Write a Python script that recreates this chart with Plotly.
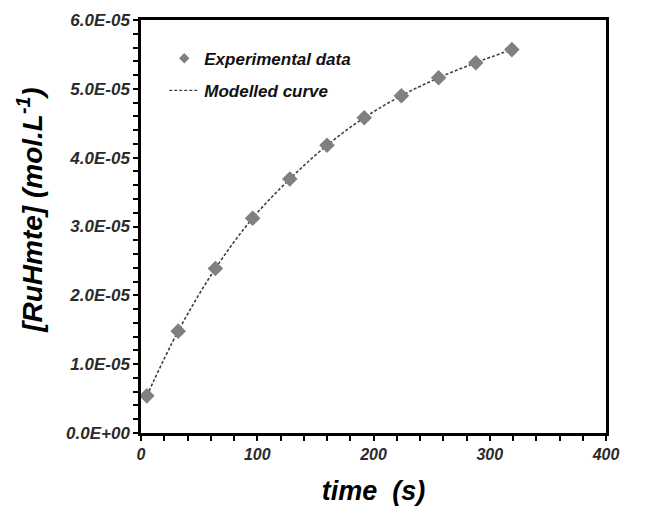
import plotly.graph_objects as go

time_s = [5, 32, 64, 96, 128, 160, 192, 224, 256, 288, 319]
conc_exp = [5.4e-6, 1.48e-5, 2.39e-5, 3.12e-5, 3.69e-5, 4.18e-5, 4.58e-5, 4.90e-5, 5.16e-5, 5.38e-5, 5.57e-5]
conc_model = [5.4e-6, 1.48e-5, 2.39e-5, 3.12e-5, 3.69e-5, 4.18e-5, 4.58e-5, 4.90e-5, 5.16e-5, 5.38e-5, 5.57e-5]

y_tickvals = [0, 1e-5, 2e-5, 3e-5, 4e-5, 5e-5, 6e-5]
y_ticktext = ["0.0E+00", "1.0E-05", "2.0E-05", "3.0E-05", "4.0E-05", "5.0E-05", "6.0E-05"]
x_tickvals = [0, 100, 200, 300, 400]

FONT = "Liberation Sans, Arial, sans-serif"
GRAY = "#808080"

fig = go.Figure()
fig.add_trace(go.Scatter(x=time_s, y=conc_model, mode="lines", line=dict(color="#404040", width=1.6, dash="3px,2px"),
                         line_shape="spline", showlegend=False))
fig.add_trace(go.Scatter(x=time_s, y=conc_exp, mode="markers",
                         marker=dict(symbol="diamond", size=12, color=GRAY), showlegend=False))
# legend entries
fig.add_trace(go.Scatter(x=[None], y=[None], mode="markers", name="<b><i>Experimental data</i></b>",
                         marker=dict(symbol="diamond", size=8, color=GRAY), legendgroup="a"))
fig.add_trace(go.Scatter(x=[None], y=[None], mode="lines", name="<b><i>Modelled curve</i></b>",
                         line=dict(color="#404040", width=1.3, dash="3px,2px"), legendgroup="b"))

axis_common = dict(showline=True, linecolor="black", linewidth=2.5, mirror=True, showgrid=False, zeroline=False,
                   ticks="outside", ticklen=5, tickwidth=2, tickcolor="black")

fig.update_xaxes(range=[0, 400], tickvals=x_tickvals, ticktext=[f"<b><i>{v}</i></b>" for v in x_tickvals],
                 tickfont=dict(family=FONT, size=16, color="#2a2a2a"),
                 minor=dict(ticks="outside", ticklen=5, tickwidth=2, tickcolor="black", dtick=20),
                 title=dict(text="<b><i>time  (s)</i></b>", font=dict(family=FONT, size=27, color="black"), standoff=20),
                 **axis_common)
fig.update_yaxes(range=[0, 6e-5], tickvals=y_tickvals, ticktext=[f"<b><i>{t}</i></b>" for t in y_ticktext],
                 tickfont=dict(family=FONT, size=17, color="#2a2a2a"),
                 minor=dict(ticks="outside", ticklen=5, tickwidth=2, tickcolor="black", dtick=2e-6),
                 **axis_common)

fig.add_annotation(text="<b><i>[RuHmte] (mol.L<sup>-1</sup>)</i></b>", textangle=-90,
                   xref="paper", yref="paper", x=-0.239, y=0.54, xanchor="center", yanchor="middle",
                   showarrow=False, font=dict(family=FONT, size=28, color="black"))

fig.update_layout(
    width=654, height=514,
    margin=dict(l=141, r=48, t=20, b=81),
    plot_bgcolor="white", paper_bgcolor="white",
    legend=dict(x=0.05, y=0.95, xanchor="left", yanchor="top", bgcolor="rgba(0,0,0,0)",
                traceorder="grouped", tracegroupgap=7,
                font=dict(family=FONT, size=17, color="#111111")),
)

fig.write_html("out.html")
